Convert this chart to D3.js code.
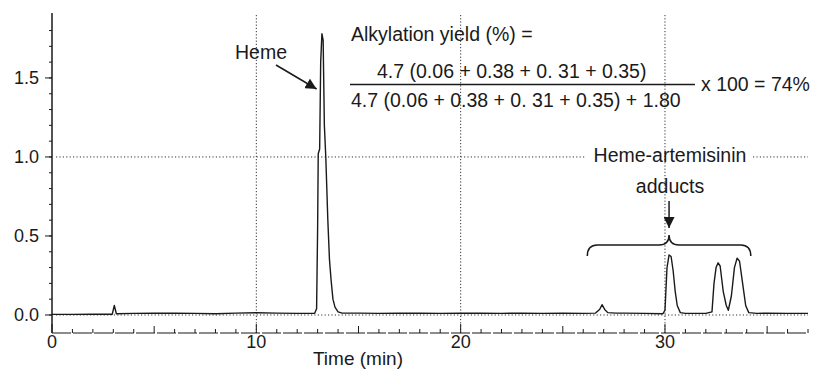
<!DOCTYPE html>
<html>
<head>
<meta charset="utf-8">
<script src="https://cdn.jsdelivr.net/npm/d3@7"></script>
<style>
  body { margin: 0; background: #fff; }
  svg { font-family: "Liberation Sans", Arial, sans-serif; fill: #1a1a1a; }
</style>
</head>
<body>
<svg id="chart" width="815" height="369"></svg>
<script>
// chromatogram trace (time in min, absorbance)
const time = [0, 1, 2, 2.95, 3.05, 3.15, 4, 5, 6, 7, 8, 9, 10, 11, 12, 12.85,
  12.95, 13.0, 13.03, 13.1, 13.15, 13.21, 13.27, 13.33, 13.4, 13.5, 13.58, 13.66, 13.75, 13.85, 14.0, 14.2,
  15, 16, 17, 18, 19, 20, 21, 22, 23, 24, 25, 26, 26.6, 26.8, 26.92, 27.05, 27.2, 27.6, 28, 29, 29.9,
  30.0, 30.1, 30.2, 30.3, 30.4, 30.5, 30.6, 30.75, 31.0, 31.5, 32.0, 32.3,
  32.4, 32.5, 32.6, 32.7, 32.85, 33.0, 33.1, 33.25, 33.4, 33.53, 33.65, 33.8, 33.95, 34.1, 34.5, 35, 36, 37];
const absorbance = [0.004, 0.004, 0.005, 0.005, 0.06, 0.008, 0.01, 0.012, 0.011, 0.01, 0.008, 0.012, 0.014, 0.012, 0.01, 0.01,
  0.04, 0.55, 1.02, 1.05, 1.6, 1.78, 1.74, 1.2, 1.0, 0.6, 0.35, 0.22, 0.1, 0.05, 0.02, 0.012,
  0.012, 0.01, 0.012, 0.011, 0.01, 0.012, 0.011, 0.01, 0.012, 0.01, 0.011, 0.01, 0.012, 0.035, 0.065, 0.035, 0.015, 0.012, 0.012, 0.01, 0.008,
  0.03, 0.3, 0.38, 0.37, 0.28, 0.15, 0.06, 0.015, 0.01, 0.01, 0.01, 0.02,
  0.2, 0.3, 0.33, 0.31, 0.15, 0.06, 0.03, 0.12, 0.3, 0.36, 0.34, 0.2, 0.06, 0.015, 0.01, 0.012, 0.01, 0.01];

const xTicks = [0, 10, 20, 30];
const yTicks = [0.0, 0.5, 1.0, 1.5];
const xGrid = [10, 20, 30];
const yGrid = [0.0, 1.0];

const svg = d3.select('#chart');
const x = d3.scaleLinear().domain([0, 37]).range([52, 808]);
const y = d3.scaleLinear().domain([-0.114, 1.911]).range([333, 13]);
const ink = '#1a1a1a';

const defs = svg.append('defs');
defs.append('marker').attr('id', 'arr').attr('viewBox', '0 0 10 10').attr('refX', 10).attr('refY', 5)
  .attr('markerWidth', 11).attr('markerHeight', 11).attr('markerUnits', 'userSpaceOnUse').attr('orient', 'auto')
  .append('path').attr('d', 'M0,0 L10,5 L0,10 Z').attr('fill', ink);

// dotted grid
svg.selectAll('.hgrid').data(yGrid).join('line')
  .attr('x1', x(0) + 4).attr('x2', x(37)).attr('y1', d => y(d)).attr('y2', d => y(d))
  .attr('stroke', '#333').attr('stroke-width', 1).attr('stroke-dasharray', '1.2,2.2');
// gap in 1.0 grid line behind the adducts label
svg.append('rect').attr('x', 586).attr('y', 146).attr('width', 166).attr('height', 18).attr('fill', '#fff');
svg.selectAll('.vgrid').data(xGrid).join('line')
  .attr('x1', d => x(d)).attr('x2', d => x(d)).attr('y1', 15).attr('y2', y(-0.114))
  .attr('stroke', '#333').attr('stroke-width', 1).attr('stroke-dasharray', '1.2,2');

// y axis
svg.append('line').attr('x1', x(0)).attr('x2', x(0)).attr('y1', 13).attr('y2', y(-0.114))
  .attr('stroke', ink).attr('stroke-width', 1.5);
svg.selectAll('.yminor').data(d3.range(0, 19).map(i => i / 10)).join('line')
  .attr('x1', x(0) - 3).attr('x2', x(0)).attr('y1', d => y(d)).attr('y2', d => y(d))
  .attr('stroke', ink).attr('stroke-width', 1);
svg.selectAll('.ymajor').data(yTicks).join('line')
  .attr('x1', x(0) - 7).attr('x2', x(0)).attr('y1', d => y(d)).attr('y2', d => y(d))
  .attr('stroke', ink).attr('stroke-width', 1);
svg.selectAll('.ylab').data(yTicks).join('text')
  .attr('x', 39).attr('y', d => y(d)).attr('dy', '0.36em').attr('text-anchor', 'end')
  .style('font-size', '18px').text(d => d.toFixed(1));

// x axis
svg.append('line').attr('x1', x(0)).attr('x2', x(37)).attr('y1', y(-0.114)).attr('y2', y(-0.114))
  .attr('stroke', ink).attr('stroke-width', 1.2).attr('stroke-dasharray', '19,2');
svg.selectAll('.xminor').data(d3.range(0, 38)).join('line')
  .attr('x1', d => x(d)).attr('x2', d => x(d)).attr('y1', y(-0.114))
  .attr('y2', d => y(-0.114) - (d % 10 === 0 ? 9 : d % 5 === 0 ? 7 : 4))
  .attr('stroke', ink).attr('stroke-width', 1);
svg.selectAll('.xlab').data(xTicks).join('text')
  .attr('x', d => x(d)).attr('y', 348).attr('text-anchor', 'middle')
  .style('font-size', '18px').text(d => d);
svg.append('text').attr('x', 358).attr('y', 365).attr('text-anchor', 'middle')
  .style('font-size', '19px').text('Time (min)');

// trace
const pts = time.map((t, i) => [t, absorbance[i]]);
svg.append('path').datum(pts)
  .attr('d', d3.line().x(d => x(d[0])).y(d => y(d[1])))
  .attr('fill', 'none').attr('stroke', ink).attr('stroke-width', 1.4).attr('stroke-linejoin', 'round');

// annotations
svg.append('text').attr('x', 235).attr('y', 59).style('font-size', '19.5px').text('Heme');
svg.append('line').attr('x1', 276).attr('y1', 65).attr('x2', x(12.95)).attr('y2', y(1.43))
  .attr('stroke', ink).attr('stroke-width', 1.5).attr('marker-end', 'url(#arr)');

svg.append('text').attr('x', 351).attr('y', 41).style('font-size', '19.5px').text('Alkylation yield (%) =');
svg.append('text').attr('x', 377).attr('y', 78).style('font-size', '19.5px').text('4.7 (0.06 + 0.38 + 0. 31 + 0.35)');
svg.append('line').attr('x1', 350).attr('x2', 695).attr('y1', 84.5).attr('y2', 84.5).attr('stroke', ink).attr('stroke-width', 1.6);
svg.append('text').attr('x', 351).attr('y', 107).style('font-size', '19.5px').text('4.7 (0.06 + 0.38 + 0. 31 + 0.35) + 1.80');
svg.append('text').attr('x', 701).attr('y', 91).style('font-size', '19.5px').text('x 100 = 74%');

svg.append('text').attr('x', 670).attr('y', 162).attr('text-anchor', 'middle').style('font-size', '19.5px').text('Heme-artemisinin');
svg.append('text').attr('x', 670).attr('y', 193).attr('text-anchor', 'middle').style('font-size', '19.5px').text('adducts');
svg.append('line').attr('x1', x(30.2)).attr('x2', x(30.2)).attr('y1', 201).attr('y2', 228)
  .attr('stroke', ink).attr('stroke-width', 1.5).attr('marker-end', 'url(#arr)');

// curly brace over the adduct peaks
const bx1 = x(26.2), bx2 = x(34.2), bc = x(30.2);
const yEnd = y(0.373), yMid = y(0.443), yTip = y(0.506), r = 10;
svg.append('path')
  .attr('d', `M${bx1},${yEnd} Q${bx1},${yMid} ${bx1 + r},${yMid} L${bc - r},${yMid} Q${bc},${yMid} ${bc},${yTip}
    Q${bc},${yMid} ${bc + r},${yMid} L${bx2 - r},${yMid} Q${bx2},${yMid} ${bx2},${yEnd}`)
  .attr('fill', 'none').attr('stroke', ink).attr('stroke-width', 1.5);
</script>
</body>
</html>
